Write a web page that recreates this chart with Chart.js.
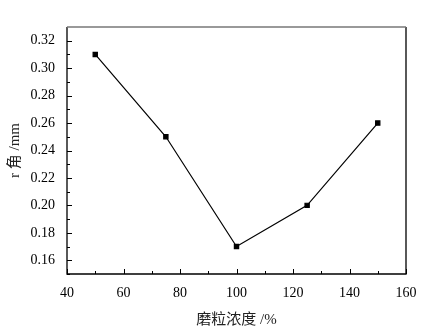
<!DOCTYPE html>
<html><head><meta charset="utf-8">
<script src="https://cdn.jsdelivr.net/npm/chart.js@4"></script>
<style>html,body{margin:0;padding:0;background:#fff}#wrap{width:429px;height:333px}</style>
</head><body><div id="wrap"><canvas id="c" width="429" height="333"></canvas></div>
<script>
const concentration = [50, 75, 100, 125, 150];
const rValues = [0.31, 0.25, 0.17, 0.20, 0.26];
const xTicks = [40, 60, 80, 100, 120, 140, 160];
const yTicks = [0.16, 0.18, 0.20, 0.22, 0.24, 0.26, 0.28, 0.30, 0.32];
const xMinor = [50, 70, 90, 110, 130, 150];
const yMinor = [0.15, 0.17, 0.19, 0.21, 0.23, 0.25, 0.27, 0.29, 0.31];
const xTitle = '磨粒浓度 /%';
const yTitle = 'r 角 /mm';

const FONT = '"Liberation Serif", "Noto Sans CJK SC", serif';

const frame = {
  id: 'frame',
  afterDraw(chart) {
    const {ctx, chartArea: a, scales: {x, y}} = chart;
    ctx.save();
    ctx.strokeStyle = '#000';
    ctx.lineWidth = 1;
    ctx.beginPath();
    xTicks.forEach(v => { const p = Math.round(x.getPixelForValue(v)) + 0.5; ctx.moveTo(p, a.bottom); ctx.lineTo(p, a.bottom - 5); });
    xMinor.forEach(v => { const p = Math.round(x.getPixelForValue(v)) + 0.5; ctx.moveTo(p, a.bottom); ctx.lineTo(p, a.bottom - 3); });
    yTicks.forEach(v => { const p = Math.round(y.getPixelForValue(v)) + 0.5; ctx.moveTo(a.left, p); ctx.lineTo(a.left + 5, p); });
    yMinor.forEach(v => { const p = Math.round(y.getPixelForValue(v)) + 0.5; ctx.moveTo(a.left, p); ctx.lineTo(a.left + 3, p); });
    ctx.stroke();
    ctx.lineWidth = 1.3;
    ctx.beginPath();
    ctx.moveTo(a.left, a.top); ctx.lineTo(a.left, a.bottom); ctx.lineTo(a.right, a.bottom); ctx.lineTo(a.right, a.top);
    ctx.stroke();
    ctx.strokeStyle = '#777';
    ctx.lineWidth = 1.5;
    ctx.beginPath();
    ctx.moveTo(a.left, a.top); ctx.lineTo(a.right, a.top);
    ctx.stroke();
    ctx.restore();
  }
};

new Chart(document.getElementById('c'), {
  type: 'scatter',
  data: {
    datasets: [{
      data: concentration.map((v, i) => ({x: v, y: rValues[i]})),
      showLine: true,
      borderColor: '#000',
      backgroundColor: '#000',
      borderWidth: 1.2,
      pointStyle: 'rect',
      pointRadius: 3,
      pointHoverRadius: 3,
      tension: 0
    }]
  },
  options: {
    responsive: false,
    animation: false,
    events: [],
    layout: {padding: {top: 27, right: 23, left: 0, bottom: 0}},
    plugins: {legend: {display: false}, tooltip: {enabled: false}},
    scales: {
      x: {
        type: 'linear', min: 40, max: 160,
        afterBuildTicks: s => { s.ticks = xTicks.map(v => ({value: v})); },
        afterFit: s => { s.height = 59; },
        grid: {display: false, drawTicks: false},
        border: {display: false},
        ticks: {color: '#000', padding: 11, font: {family: FONT, size: 14}},
        title: {display: true, text: xTitle, color: '#222', font: {family: FONT, size: 15}, padding: {top: 0, bottom: 4}}
      },
      y: {
        type: 'linear', min: 0.15, max: 0.33,
        afterBuildTicks: s => { s.ticks = yTicks.map(v => ({value: v})); },
        afterFit: s => { s.width = 67; },
        grid: {display: false, drawTicks: false},
        border: {display: false},
        ticks: {color: '#000', padding: 12, font: {family: FONT, size: 14}, callback: v => v.toFixed(2)},
        title: {display: true, text: yTitle, color: '#222', font: {family: FONT, size: 15}, padding: {top: 6, bottom: 0}}
      }
    }
  },
  plugins: [frame]
});
</script>
</body></html>
